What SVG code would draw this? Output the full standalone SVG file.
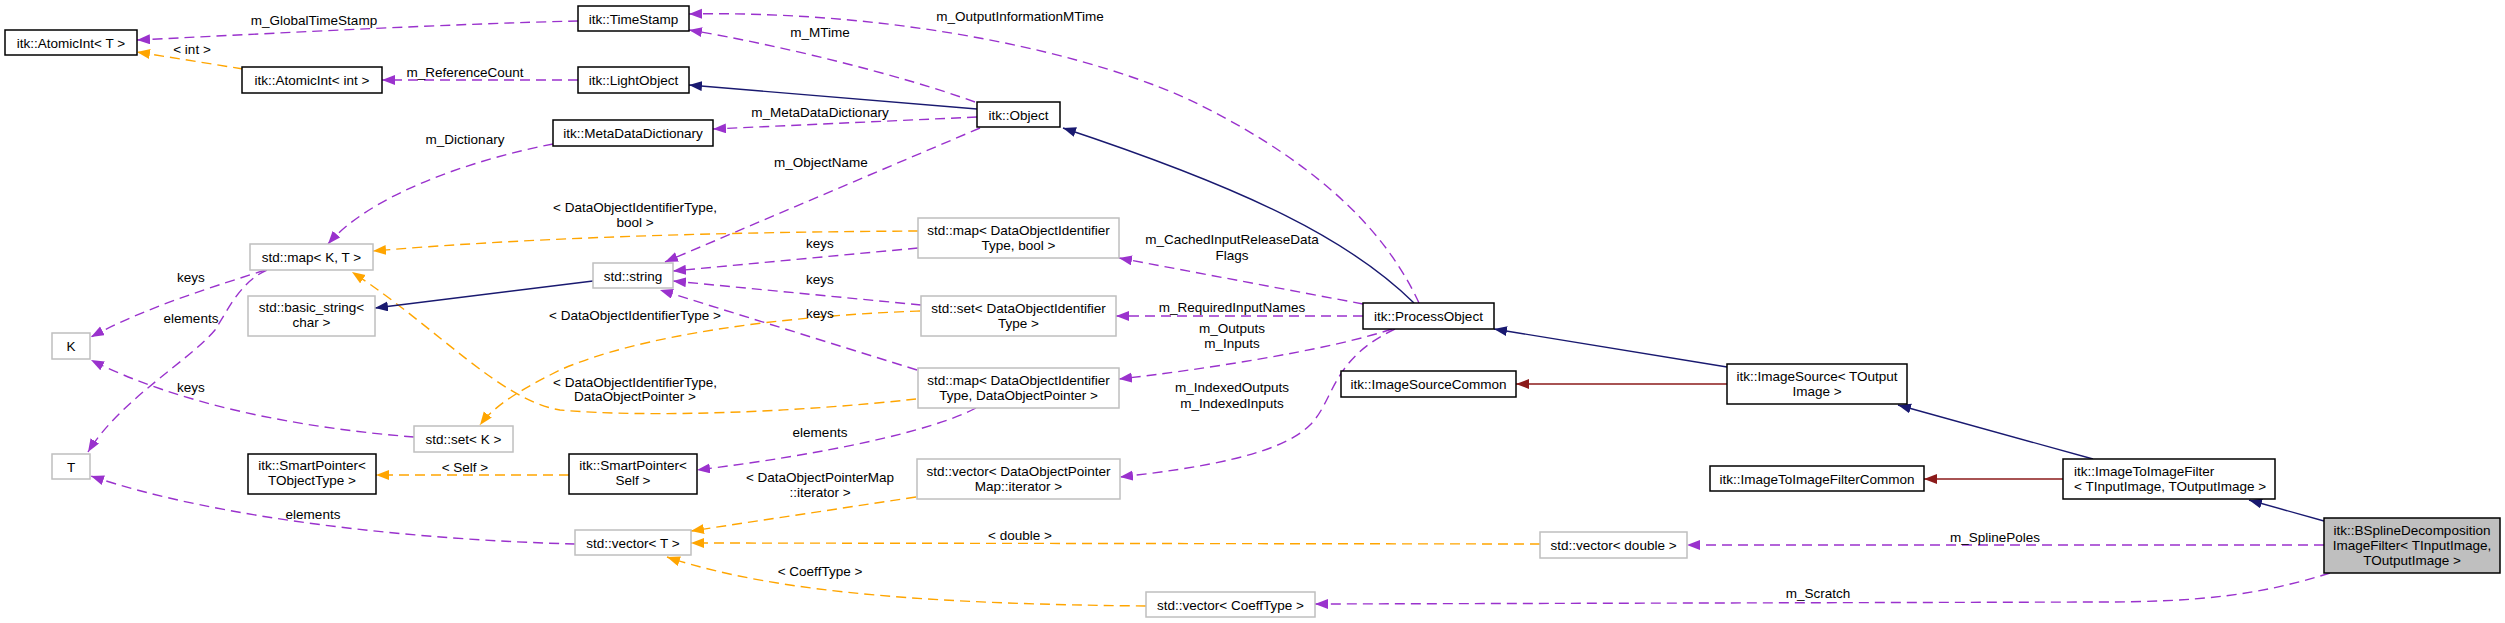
<svg xmlns="http://www.w3.org/2000/svg" width="2505" height="623" viewBox="0 0 2505 623">
<style>
text{font-family:"Liberation Sans",Arial,Helvetica,sans-serif;font-size:13.5px;fill:#000}
.c{text-anchor:middle}
.nb{fill:#fff;stroke:#000;stroke-width:1.5}
.ng{fill:#fff;stroke:#bfbfbf;stroke-width:1.5}
.nh{fill:#bfbfbf;stroke:#000;stroke-width:1.5}
.e{fill:none;stroke-width:1.4}
.use{stroke:#9a32cd;stroke-dasharray:10,6;marker-end:url(#ap)}
.tpl{stroke:#ffa500;stroke-dasharray:10,6;marker-end:url(#ao)}
.inh{stroke:#191970;marker-end:url(#an)}
.prv{stroke:#8b1a1a;marker-end:url(#ar)}
</style>
<defs>
<marker id="ap" markerUnits="userSpaceOnUse" markerWidth="14" markerHeight="11" refX="13" refY="5" orient="auto"><path d="M0,0 L13,5 L0,10 z" fill="#9a32cd"/></marker>
<marker id="ao" markerUnits="userSpaceOnUse" markerWidth="14" markerHeight="11" refX="13" refY="5" orient="auto"><path d="M0,0 L13,5 L0,10 z" fill="#ffa500"/></marker>
<marker id="an" markerUnits="userSpaceOnUse" markerWidth="14" markerHeight="11" refX="13" refY="5" orient="auto"><path d="M0,0 L13,5 L0,10 z" fill="#191970"/></marker>
<marker id="ar" markerUnits="userSpaceOnUse" markerWidth="14" markerHeight="11" refX="13" refY="5" orient="auto"><path d="M0,0 L13,5 L0,10 z" fill="#8b1a1a"/></marker>
</defs>
<rect width="2505" height="623" fill="#fff"/>
<g id="connectors">
<path class="e use" d="M578,21 C450,24 300,32 137,40"/>
<path class="e tpl" d="M243,69 L137,52"/>
<path class="e use" d="M578,80 L382,80"/>
<path class="e use" d="M975,102 C900,75 780,45 689,30"/>
<path class="e use" d="M1419,303 C1390,240 1330,170 1200,105 C1100,55 900,10 689,14"/>
<path class="e use" d="M977,117 L713,129"/>
<path class="e use" d="M553,144 C470,160 370,195 328,244"/>
<path class="e use" d="M980,128 L665,262"/>
<path class="e use" d="M918,248 L673,271"/>
<path class="e use" d="M921,305 L673,281"/>
<path class="e use" d="M917,370 L660,290"/>
<path class="e use" d="M1363,304 L1119,258"/>
<path class="e use" d="M1363,316 L1116,316"/>
<path class="e use" d="M1392,329 C1330,350 1200,370 1119,379"/>
<path class="e use" d="M1395,329 C1330,360 1335,400 1310,425 C1280,455 1200,468 1120,477"/>
<path class="e use" d="M976,408 C930,432 820,455 697,470"/>
<path class="e use" d="M414,437 C300,428 180,405 91,360"/>
<path class="e use" d="M265,270 C220,285 150,305 91,337"/>
<path class="e use" d="M267,270 C240,282 228,310 215,330 C190,360 120,400 88,452"/>
<path class="e use" d="M575,544 C420,540 220,520 91,476"/>
<path class="e use" d="M2324,545 L1687,545"/>
<path class="e use" d="M2330,573 C2260,595 2200,602 2100,602 L1315,604"/>
<path class="e tpl" d="M918,231 C750,232 550,236 373,251"/>
<path class="e tpl" d="M916,399 C800,412 650,418 560,410 C500,400 440,330 352,272"/>
<path class="e tpl" d="M920,311 C780,316 640,335 560,370 C520,390 495,405 480,425"/>
<path class="e tpl" d="M569,475 L376,475"/>
<path class="e tpl" d="M916,497 L691,531"/>
<path class="e tpl" d="M1540,544 L691,543"/>
<path class="e tpl" d="M1146,606 C950,604 780,595 667,557"/>
<path class="e inh" d="M977,109 L689,85"/>
<path class="e inh" d="M1414,303 C1350,240 1250,190 1063,128"/>
<path class="e inh" d="M593,281 L375,308"/>
<path class="e inh" d="M1727,367 L1494,329"/>
<path class="e inh" d="M2093,459 L1898,405"/>
<path class="e inh" d="M2324,521 L2249,500"/>
<path class="e prv" d="M1727,384 L1516,384"/>
<path class="e prv" d="M2063,479 L1924,479"/>
<g id="edge-labels">
<text class="c" x="314" y="25">m_GlobalTimeStamp</text>
<text class="c" x="192" y="54">&lt; int &gt;</text>
<text class="c" x="465" y="77">m_ReferenceCount</text>
<text class="c" x="820" y="37">m_MTime</text>
<text class="c" x="1020" y="21">m_OutputInformationMTime</text>
<text class="c" x="820" y="117">m_MetaDataDictionary</text>
<text class="c" x="465" y="144">m_Dictionary</text>
<text class="c" x="821" y="167">m_ObjectName</text>
<text class="c" x="635" y="212">&lt; DataObjectIdentifierType,</text>
<text class="c" x="635" y="227">bool &gt;</text>
<text class="c" x="820" y="248">keys</text>
<text class="c" x="820" y="284">keys</text>
<text class="c" x="820" y="318">keys</text>
<text class="c" x="191" y="282">keys</text>
<text class="c" x="191" y="323">elements</text>
<text class="c" x="635" y="320">&lt; DataObjectIdentifierType &gt;</text>
<text class="c" x="191" y="392">keys</text>
<text class="c" x="635" y="387">&lt; DataObjectIdentifierType,</text>
<text class="c" x="635" y="401">DataObjectPointer &gt;</text>
<text class="c" x="820" y="437">elements</text>
<text class="c" x="465" y="472">&lt; Self &gt;</text>
<text class="c" x="820" y="482">&lt; DataObjectPointerMap</text>
<text class="c" x="820" y="497">::iterator &gt;</text>
<text class="c" x="313" y="519">elements</text>
<text class="c" x="1020" y="540">&lt; double &gt;</text>
<text class="c" x="820" y="576">&lt; CoeffType &gt;</text>
<text class="c" x="1232" y="244">m_CachedInputReleaseData</text>
<text class="c" x="1232" y="260">Flags</text>
<text class="c" x="1232" y="312">m_RequiredInputNames</text>
<text class="c" x="1232" y="333">m_Outputs</text>
<text class="c" x="1232" y="348">m_Inputs</text>
<text class="c" x="1232" y="392">m_IndexedOutputs</text>
<text class="c" x="1232" y="408">m_IndexedInputs</text>
<text class="c" x="1995" y="542">m_SplinePoles</text>
<text class="c" x="1818" y="598">m_Scratch</text>
</g>
</g>
<g id="n1"><rect class="nb" x="5" y="30" width="132" height="25"/><text class="c" x="71" y="47.5">itk::AtomicInt&lt; T &gt;</text></g>
<g id="n2"><rect class="nb" x="242" y="67" width="140" height="26"/><text class="c" x="312" y="85">itk::AtomicInt&lt; int &gt;</text></g>
<g id="n3"><rect class="nb" x="578" y="6" width="111" height="25"/><text class="c" x="633.5" y="23.5">itk::TimeStamp</text></g>
<g id="n4"><rect class="nb" x="578" y="67" width="111" height="26"/><text class="c" x="633.5" y="85">itk::LightObject</text></g>
<g id="n5"><rect class="nb" x="553" y="120" width="160" height="26"/><text class="c" x="633" y="138">itk::MetaDataDictionary</text></g>
<g id="n6"><rect class="nb" x="977" y="102" width="83" height="25"/><text class="c" x="1018.5" y="119.5">itk::Object</text></g>
<g id="n7"><rect class="ng" x="250" y="244" width="123" height="26"/><text class="c" x="311.5" y="262">std::map&lt; K, T &gt;</text></g>
<g id="n8"><rect class="ng" x="248" y="296" width="127" height="40"/><text class="c" x="311.5" y="312">std::basic_string&lt;</text><text class="c" x="311.5" y="327">char &gt;</text></g>
<g id="n9"><rect class="ng" x="593" y="263" width="80" height="25"/><text class="c" x="633" y="280.5">std::string</text></g>
<g id="n10"><rect class="ng" x="52" y="333" width="38" height="26"/><text class="c" x="71" y="351">K</text></g>
<g id="n11"><rect class="ng" x="52" y="454" width="38" height="25"/><text class="c" x="71" y="471.5">T</text></g>
<g id="n12"><rect class="ng" x="414" y="426" width="99" height="26"/><text class="c" x="463.5" y="444">std::set&lt; K &gt;</text></g>
<g id="n13"><rect class="nb" x="248" y="454" width="128" height="40"/><text class="c" x="312" y="470">itk::SmartPointer&lt;</text><text class="c" x="312" y="485">TObjectType &gt;</text></g>
<g id="n14"><rect class="nb" x="569" y="454" width="128" height="40"/><text class="c" x="633" y="470">itk::SmartPointer&lt;</text><text class="c" x="633" y="485">Self &gt;</text></g>
<g id="n15"><rect class="ng" x="575" y="530" width="116" height="25"/><text class="c" x="633" y="547.5">std::vector&lt; T &gt;</text></g>
<g id="n16"><rect class="ng" x="918" y="218" width="201" height="40"/><text class="c" x="1018.5" y="235">std::map&lt; DataObjectIdentifier</text><text class="c" x="1018.5" y="250">Type, bool &gt;</text></g>
<g id="n17"><rect class="ng" x="921" y="296" width="195" height="40"/><text class="c" x="1018.5" y="313">std::set&lt; DataObjectIdentifier</text><text class="c" x="1018.5" y="328">Type &gt;</text></g>
<g id="n18"><rect class="ng" x="918" y="368" width="201" height="40"/><text class="c" x="1018.5" y="385">std::map&lt; DataObjectIdentifier</text><text class="c" x="1018.5" y="400">Type, DataObjectPointer &gt;</text></g>
<g id="n19"><rect class="ng" x="917" y="459" width="203" height="40"/><text class="c" x="1018.5" y="476">std::vector&lt; DataObjectPointer</text><text class="c" x="1018.5" y="491">Map::iterator &gt;</text></g>
<g id="n20"><rect class="ng" x="1146" y="592" width="169" height="25"/><text class="c" x="1230.5" y="609.5">std::vector&lt; CoeffType &gt;</text></g>
<g id="n21"><rect class="nb" x="1363" y="303" width="131" height="26"/><text class="c" x="1428.5" y="321">itk::ProcessObject</text></g>
<g id="n22"><rect class="nb" x="1341" y="371" width="175" height="26"/><text class="c" x="1428.5" y="389">itk::ImageSourceCommon</text></g>
<g id="n23"><rect class="ng" x="1540" y="532" width="147" height="26"/><text class="c" x="1613.5" y="550">std::vector&lt; double &gt;</text></g>
<g id="n24"><rect class="nb" x="1727" y="364" width="180" height="40"/><text class="c" x="1817" y="381">itk::ImageSource&lt; TOutput</text><text class="c" x="1817" y="396">Image &gt;</text></g>
<g id="n25"><rect class="nb" x="1710" y="466" width="214" height="25"/><text class="c" x="1817" y="483.5">itk::ImageToImageFilterCommon</text></g>
<g id="n26"><rect class="nb" x="2063" y="459" width="212" height="40"/><text x="2074" y="476">itk::ImageToImageFilter</text><text x="2074" y="491">&lt; TInputImage, TOutputImage &gt;</text></g>
<g id="n27"><rect class="nh" x="2324" y="518" width="176" height="55"/><text class="c" x="2412" y="535">itk::BSplineDecomposition</text><text class="c" x="2412" y="550">ImageFilter&lt; TInputImage,</text><text class="c" x="2412" y="565">TOutputImage &gt;</text></g>
</svg>
